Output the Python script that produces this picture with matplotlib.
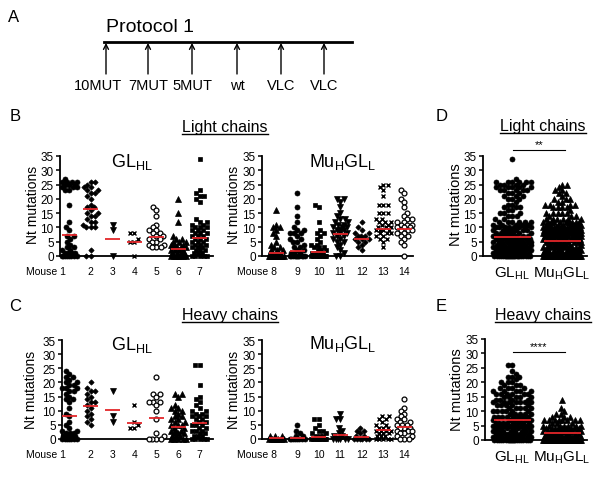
import numpy as np
import matplotlib
matplotlib.use('Agg')
import matplotlib.pyplot as plt
from matplotlib.transforms import ScaledTranslation
from matplotlib.lines import Line2D
from matplotlib.patches import FancyArrowPatch

plt.rcParams['font.family'] = ['Liberation Sans', 'DejaVu Sans']
plt.rcParams['mathtext.fontset'] = 'custom'
plt.rcParams['mathtext.rm'] = 'Liberation Sans'
plt.rcParams['mathtext.it'] = 'Liberation Sans:italic'
plt.rcParams['mathtext.bf'] = 'Liberation Sans:bold'

# ---------------- data ----------------
protocol_labels = ['10MUT', '7MUT', '5MUT', 'wt', 'VLC', 'VLC']

# Light chains, nucleotide mutations per clone, per mouse
lc_m1 = [27, 26, 26, 26, 26, 25, 25, 25, 24, 24, 24, 23, 23, 18, 12, 10, 9, 7, 7, 6, 5, 4, 3, 3, 2, 2, 1, 1, 1, 1, 0, 0, 0, 0, 0, 0, 0, 0]
lc_m2 = [26, 26, 25, 24, 24, 23, 23, 22, 22, 21, 20, 18, 17, 17, 16, 15, 15, 14, 14, 13, 12, 12, 11, 10, 10, 10, 2, 0, 0]
lc_m3 = [11, 9, 0]
lc_m4 = [8, 8, 6, 5, 5, 0]
lc_m5 = [17, 16, 14, 11, 10, 9, 9, 8, 8, 7, 7, 6, 6, 5, 5, 4, 4, 3, 3, 3]
lc_m6 = [20, 15, 12, 7, 6, 6, 5, 5, 5, 4, 4, 4, 3, 3, 3, 3, 2, 2, 2, 2, 1, 1, 1, 1, 0, 0, 0, 0, 0, 0, 0]
lc_m7 = [34, 23, 22, 21, 21, 20, 19, 13, 12, 12, 11, 11, 10, 10, 10, 9, 9, 9, 8, 8, 8, 7, 7, 7, 6, 6, 6, 5, 5, 5, 4, 4, 4, 3, 3, 3, 2, 2, 2, 1, 1, 1, 0, 0, 0, 0, 0]
lc_m8 = [16, 11, 10, 10, 9, 8, 7, 5, 4, 3, 3, 2, 2, 2, 1, 1, 1, 1, 0, 0, 0, 0, 0, 0, 0, 0, 0, 0, 0, 0]
lc_m9 = [22, 17, 14, 12, 10, 9, 9, 8, 8, 8, 7, 6, 6, 5, 5, 4, 3, 3, 2, 2, 1, 1, 1, 0, 0, 0, 0, 0, 0, 0, 0, 0, 0, 0]
lc_m10 = [18, 17, 12, 9, 8, 8, 7, 6, 5, 4, 4, 3, 3, 3, 2, 2, 2, 1, 1, 1, 1, 0, 0, 0, 0, 0, 0, 0, 0, 0, 0]
lc_m11 = [20, 20, 19, 17, 15, 14, 13, 13, 12, 12, 11, 11, 10, 10, 10, 9, 9, 9, 8, 8, 8, 7, 7, 6, 6, 5, 5, 4, 3, 2, 1, 0, 0]
lc_m12 = [12, 10, 9, 8, 8, 7, 7, 7, 6, 6, 6, 5, 5, 4, 3, 2]
lc_m13 = [25, 25, 24, 23, 21, 18, 18, 18, 15, 15, 15, 13, 13, 12, 12, 12, 11, 11, 10, 10, 10, 9, 9, 9, 9, 8, 8, 8, 7, 7, 6, 6, 5, 3]
lc_m14 = [23, 22, 20, 19, 17, 15, 14, 13, 13, 12, 12, 11, 11, 11, 10, 10, 10, 9, 9, 9, 8, 8, 7, 7, 6, 5, 4, 0]

# Heavy chains
hc_m1 = [24, 23, 22, 22, 21, 20, 20, 19, 19, 18, 18, 18, 17, 17, 16, 15, 14, 14, 13, 11, 9, 8, 6, 5, 4, 3, 3, 2, 2, 2, 1, 1, 1, 1, 0, 0, 0, 0, 0, 0, 0]
hc_m2 = [20, 18, 17, 17, 16, 15, 14, 13, 13, 12, 11, 10, 9, 8, 7, 6, 5]
hc_m3 = [17, 8, 6]
hc_m4 = [12, 6, 5, 4, 4]
hc_m5 = [22, 16, 16, 15, 13, 13, 13, 12, 10, 7, 2, 1, 0, 0, 0, 0]
hc_m6 = [16, 16, 15, 12, 11, 11, 10, 10, 9, 8, 8, 7, 7, 6, 6, 5, 5, 5, 4, 4, 3, 3, 3, 2, 2, 2, 1, 1, 1, 0, 0, 0, 0, 0]
hc_m7 = [26, 26, 19, 15, 14, 13, 12, 11, 10, 10, 9, 9, 8, 8, 8, 7, 7, 6, 6, 5, 5, 5, 4, 4, 3, 3, 3, 2, 2, 1, 1, 1, 0, 0, 0, 0, 0]
hc_m8 = [1, 1, 1, 0, 0, 0, 0, 0, 0, 0]
hc_m9 = [5, 3, 2, 1, 1, 0, 0, 0, 0, 0, 0, 0, 0]
hc_m10 = [7, 7, 5, 4, 3, 3, 2, 2, 1, 1, 1, 0, 0, 0, 0, 0, 0, 0, 0, 0, 0]
hc_m11 = [9, 7, 7, 4, 3, 2, 1, 1, 0, 0, 0, 0, 0, 0]
hc_m12 = [4, 3, 3, 2, 1, 1, 0, 0, 0, 0, 0, 0]
hc_m13 = [8, 8, 7, 7, 6, 5, 5, 4, 4, 4, 3, 3, 3, 3, 2, 2, 2, 1, 1, 1, 0, 0, 0, 0, 0]
hc_m14 = [14, 11, 10, 9, 8, 7, 7, 6, 6, 5, 5, 5, 4, 4, 4, 3, 3, 3, 2, 2, 1, 1, 0, 0, 0]

# mean (red bar) per mouse
lc_means = [7.2, 16.4, 6.0, 5.0, 6.5, 2.5, 6.3, 1.0, 1.8, 1.3, 7.7, 6.1, 9.4, 9.4]
hc_means = [8.2, 11.7, 10.2, 5.8, 7.6, 4.1, 5.8, 0.2, 0.5, 0.8, 1.5, 0.7, 3.3, 4.2]
# pooled group means
d_means = [6.8, 5.4]
e_means = [7.1, 2.4]
d_sig = '**'
e_sig = '****'

mice_gl = [1, 2, 3, 4, 5, 6, 7]
mice_mu = [8, 9, 10, 11, 12, 13, 14]
lc_data = [lc_m1, lc_m2, lc_m3, lc_m4, lc_m5, lc_m6, lc_m7, lc_m8, lc_m9, lc_m10, lc_m11, lc_m12, lc_m13, lc_m14]
hc_data = [hc_m1, hc_m2, hc_m3, hc_m4, hc_m5, hc_m6, hc_m7, hc_m8, hc_m9, hc_m10, hc_m11, hc_m12, hc_m13, hc_m14]

# ---------------- styles ----------------
RED = '#e3262a'
mouse_style = {
    1: dict(marker='o', ms=3.6, mfc='black', mec='black', mew=0.5),
    2: dict(marker='D', ms=2.7, mfc='black', mec='black', mew=0.5),
    3: dict(marker='v', ms=3.9, mfc='black', mec='black', mew=0.5),
    4: dict(marker='x', ms=3.5, mfc='black', mec='black', mew=1.0),
    5: dict(marker='o', ms=3.5, mfc='white', mec='black', mew=0.9),
    6: dict(marker='^', ms=3.9, mfc='black', mec='black', mew=0.5),
    7: dict(marker='s', ms=3.4, mfc='black', mec='black', mew=0.5),
    8: dict(marker='^', ms=3.9, mfc='black', mec='black', mew=0.5),
    9: dict(marker='o', ms=3.6, mfc='black', mec='black', mew=0.5),
    10: dict(marker='s', ms=3.4, mfc='black', mec='black', mew=0.5),
    11: dict(marker='v', ms=3.9, mfc='black', mec='black', mew=0.5),
    12: dict(marker='D', ms=2.7, mfc='black', mec='black', mew=0.5),
    13: dict(marker='x', ms=3.5, mfc='black', mec='black', mew=1.0),
    14: dict(marker='o', ms=3.5, mfc='white', mec='black', mew=0.9),
}

W, H = 612, 481
PX_PER_UNIT_Y = 100 / 35.0
fig = plt.figure(figsize=(W / 100, H / 100), dpi=100)


def fx(x):
    return x / W


def fy(y):
    return 1 - y / H


def make_ax(left, right, top, bottom):
    ax = fig.add_axes([fx(left), fy(bottom), (right - left) / W, (bottom - top) / H])
    for s in ['top', 'right']:
        ax.spines[s].set_visible(False)
    for s in ['left', 'bottom']:
        ax.spines[s].set_linewidth(1.3)
    ax.set_ylim(0, 35)
    ax.set_yticks(np.arange(0, 36, 5))
    ax.tick_params(axis='y', direction='out', length=3, width=1.1, labelsize=8.5, pad=1.5)
    ax.tick_params(axis='x', length=0, labelsize=7.5, pad=7)
    ax.patch.set_visible(False)
    return ax


def swarm_offsets(values, px_per_x, diam=4.4, max_half=8.0):
    """Column-scatter layout: each point goes to the free horizontal slot closest to the centre."""
    vals = np.asarray(values, float)
    ypx = vals * PX_PER_UNIT_Y
    order = np.argsort(vals, kind='stable')
    cand = np.arange(-max_half, max_half + 1e-9, 0.5)
    cand = cand[np.lexsort((cand, np.abs(cand)))]
    px_, py_ = [], []
    offs = np.zeros(len(vals))
    for i in order:
        y = ypx[i]
        x = 0.0
        if px_:
            pxa = np.array(px_)
            pya = np.array(py_)
            near = np.abs(pya - y) < diam
            if near.any():
                d2 = (cand[:, None] - pxa[near][None, :]) ** 2 + ((y - pya[near]) ** 2)[None, :]
                mind = d2.min(axis=1)
                ok = mind >= diam ** 2 - 1e-6
                x = cand[np.argmax(ok)] if ok.any() else cand[np.argmax(mind)]
        px_.append(x)
        py_.append(y)
        offs[i] = x / px_per_x
    return offs


def scatter_col(ax, xpos, values, style, px_per_x, max_half):
    offs = swarm_offsets(values, px_per_x, max_half=max_half)
    ax.plot(xpos + offs, values, ls='none', clip_on=False, zorder=3, **style)


def mean_bar(ax, xpos, m, half):
    ax.plot([xpos - half, xpos + half], [m, m], color=RED, lw=1.3, zorder=4,
            clip_on=False, solid_capstyle='butt')


def mouse_labels(ax, nums, dx_px):
    ax.set_xticks(nums)
    ax.set_xticklabels(['Mouse %d' % nums[0]] + [str(n) for n in nums[1:]])
    lab = ax.get_xticklabels()[0]
    lab.set_horizontalalignment('right')
    lab.set_transform(lab.get_transform() + ScaledTranslation(dx_px / 100, 0, fig.dpi_scale_trans))


def ylab(x, y, size=10):
    fig.text(fx(x), fy(y), 'Nt mutations', rotation=90, ha='center', va='center', fontsize=size)


GL_TXT = r'GL$_{\mathregular{HL}}$'
MU_TXT = r'Mu$_{\mathregular{H}}$GL$_{\mathregular{L}}$'

# ---------------- panel A ----------------
fig.text(fx(14), fy(18), 'A', fontsize=12, ha='center', va='center')
fig.text(fx(106), fy(28), 'Protocol 1', fontsize=14, ha='left', va='center')
fig.add_artist(Line2D([fx(104), fx(352)], [fy(43), fy(43)], lw=2.0, color='black'))
arrow_x = [106, 148, 192, 237, 281, 324]
for xa, lab in zip(arrow_x, protocol_labels):
    fig.add_artist(FancyArrowPatch((fx(xa), fy(75)), (fx(xa), fy(44)), transform=fig.transFigure,
                                   arrowstyle='->,head_length=0.35,head_width=0.18', mutation_scale=10,
                                   lw=1.0, color='black', shrinkA=0, shrinkB=0))
    fig.text(fx(xa - 8 if lab == '10MUT' else xa), fy(86), lab, fontsize=10.5, ha='center', va='center')

# ---------------- panel letters & titles ----------------
fig.text(fx(15), fy(117), 'B', fontsize=12, ha='center', va='center')
fig.text(fx(15), fy(307), 'C', fontsize=12, ha='center', va='center')
fig.text(fx(442), fy(117), 'D', fontsize=12, ha='center', va='center')
fig.text(fx(441), fy(307), 'E', fontsize=12, ha='center', va='center')

underlined = []
underlined.append(fig.text(fx(182), fy(132), 'Light chains', fontsize=11.5, ha='left', va='baseline'))
underlined.append(fig.text(fx(182), fy(320), 'Heavy chains', fontsize=11.5, ha='left', va='baseline'))
underlined.append(fig.text(fx(543), fy(131), 'Light chains', fontsize=11.5, ha='center', va='baseline'))
underlined.append(fig.text(fx(543), fy(320), 'Heavy chains', fontsize=11.5, ha='center', va='baseline'))

# ---------------- panels B / C (per mouse) ----------------
GL_X0, GL_DX = 69, 21.8
MU_X0, MU_DX = 276, 21.4


def mouse_panel(left, right, top, bottom, x0, dx, nums, datas, means, title, title_x, title_base):
    ax = make_ax(left, right, top, bottom)
    ax.set_xlim(nums[0] + (left - x0) / dx, nums[0] + (right - x0) / dx)
    for n, d, m in zip(nums, datas, means):
        scatter_col(ax, n, d, mouse_style[n], dx, 7.5)
        mean_bar(ax, n, m, 7.5 / dx)
    fig.text(fx(title_x), fy(title_base), title, fontsize=13, ha='center', va='baseline')
    return ax


axB1 = mouse_panel(60, 213, 157, 257, GL_X0, GL_DX, mice_gl, lc_data[:7], lc_means[:7], GL_TXT, 132, 167)
mouse_labels(axB1, mice_gl, -3)
ylab(33, 205)
axB2 = mouse_panel(262, 413, 157, 257, MU_X0, MU_DX, mice_mu, lc_data[7:], lc_means[7:], MU_TXT, 343, 167)
mouse_labels(axB2, mice_mu, 1)
ylab(234, 205)

axC1 = mouse_panel(62, 213, 341, 440, GL_X0, GL_DX, mice_gl, hc_data[:7], hc_means[:7], GL_TXT, 132, 350)
mouse_labels(axC1, mice_gl, -3)
ylab(31, 390)
axC2 = mouse_panel(262, 413, 341, 440, MU_X0, MU_DX, mice_mu, hc_data[7:], hc_means[7:], MU_TXT, 343, 349)
mouse_labels(axC2, mice_mu, 1)
ylab(234, 390)

# ---------------- panels D / E (pooled) ----------------
group_markers = [mouse_style[1], dict(marker='^', ms=3.9, mfc='black', mec='black', mew=0.5)]


def pooled_panel(left, right, top, bottom, datas, means, sig, sig_y):
    ax = make_ax(left, right, top, bottom)
    ax.set_xlim(1 + (left - 512) / 50, 1 + (right - 512) / 50)
    for i, (d, m) in enumerate(zip(datas, means)):
        scatter_col(ax, i + 1, d, group_markers[i], 50.0, 19.0)
        mean_bar(ax, i + 1, m, 18.5 / 50)
    ax.set_xticks([1, 2])
    ax.set_xticklabels([GL_TXT, MU_TXT], fontsize=11)
    ax.get_xticklabels()[1].set_transform(ax.get_xticklabels()[1].get_transform()
                                          + ScaledTranslation(0.05, 0, fig.dpi_scale_trans))
    ax.tick_params(axis='x', length=0, pad=6)
    ax.tick_params(axis='y', labelsize=8.5)
    ax.plot([1.02, 2.06], [sig_y, sig_y], color='black', lw=0.8, clip_on=False)
    ax.text(1.54, sig_y + 0.2, sig, ha='center', va='bottom', fontsize=8)
    return ax


d_gl = sum(lc_data[:7], [])
d_mu = sum(lc_data[7:], [])
e_gl = sum(hc_data[:7], [])
e_mu = sum(hc_data[7:], [])

axD = pooled_panel(483, 587, 157, 257, [d_gl, d_mu], d_means, d_sig, 37.2)
ylab(456, 205, 10.5)
axE = pooled_panel(485, 587, 340, 441, [e_gl, e_mu], e_means, e_sig, 30.5)
ylab(457, 390, 10.5)

# ---------------- underlines ----------------
fig.canvas.draw()
renderer = fig.canvas.get_renderer()
for t in underlined:
    bb = t.get_window_extent(renderer)
    _, ybase = t.get_position()
    yline = ybase - 2.5 / H
    fig.add_artist(Line2D([bb.x0 / W, bb.x1 / W], [yline, yline], lw=1.0, color='black'))

fig.savefig('out.png', dpi=100)
